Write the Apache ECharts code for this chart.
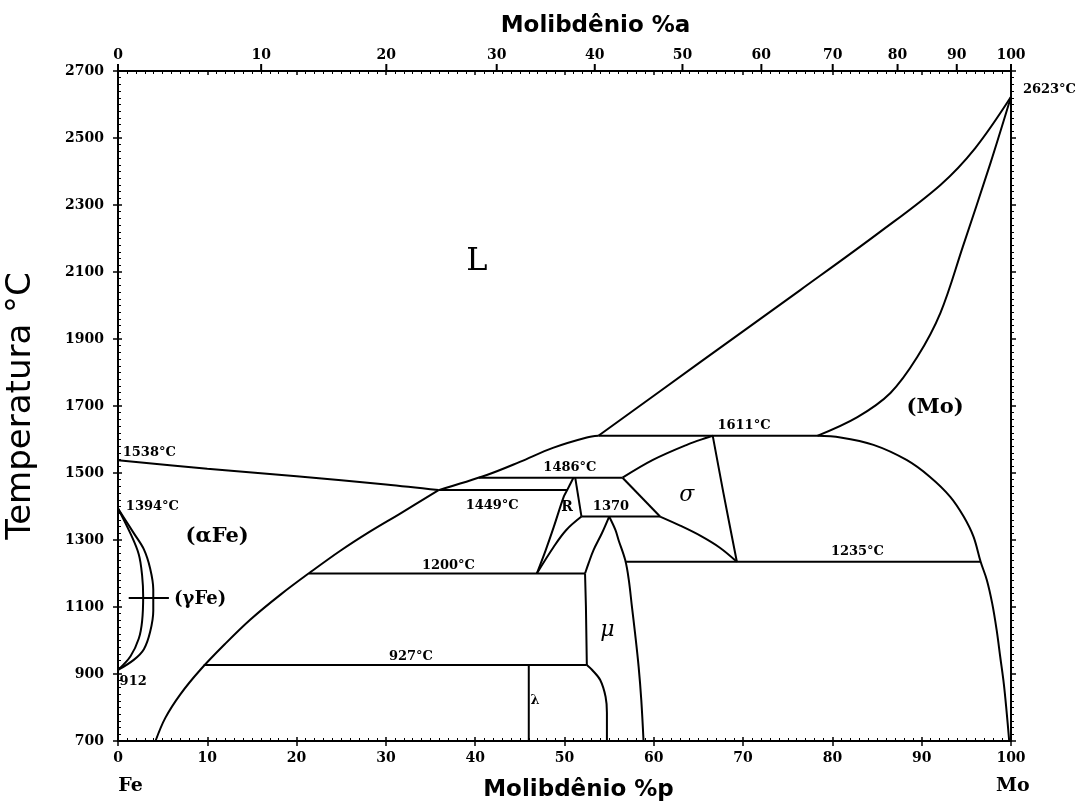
<!DOCTYPE html>
<html>
<head>
<meta charset="utf-8">
<script src="https://cdn.jsdelivr.net/npm/echarts@6/dist/echarts.min.js"></script>
<style>
  html, body { margin: 0; padding: 0; background: #fff; }
  #chart { width: 1080px; height: 805px; }
</style>
</head>
<body>
<div id="chart"></div>
<script>
// Fe–Mo equilibrium phase diagram.
// Composition in wt% Mo on the bottom axis, at% Mo on the top axis, temperature in °C.

const T_MIN = 700, T_MAX = 2700;
const atPercentTicks = [0, 10, 20, 30, 40, 50, 60, 70, 80, 90, 100];

// Phase boundaries: [wt% Mo, °C]
const feLiquidus    = [[0, 1538], [10, 1513], [20, 1490], [30, 1466], [35.9, 1449]];
const alphaSolvus   = [[4.2, 700], [5.3, 769], [7.0, 840], [9.2, 912], [12.0, 990], [14.8, 1062],
                       [18.2, 1137], [21.6, 1205], [24.9, 1268], [28.2, 1325], [31.6, 1379],
                       [35.9, 1449]];
const liquidusMid   = [[35.9, 1449], [41.3, 1494], [45.0, 1533], [48.7, 1575], [52.5, 1606],
                       [53.8, 1611]];
const moLiquidus    = [[53.8, 1611], [65.2, 1831], [76.4, 2046], [85.3, 2219], [92.1, 2360],
                       [96.0, 2470], [100, 2623]];
const moSolidus     = [[100, 2623], [97.7, 2425], [94.6, 2175], [92.1, 1978], [89.5, 1846],
                       [86.5, 1739], [82.8, 1667], [78.3, 1611]];
const moSolvus      = [[78.3, 1611], [80.9, 1606], [84.6, 1584], [88.3, 1539], [90.9, 1489],
                       [93.2, 1429], [94.7, 1370], [95.8, 1310], [96.6, 1235], [97.3, 1180],
                       [97.9, 1110], [98.4, 1030], [98.8, 950], [99.2, 870], [99.5, 790],
                       [99.8, 700]];
const gammaOuter    = [[0, 1394], [1.8, 1319], [2.9, 1272], [3.6, 1215], [3.95, 1152],
                       [3.95, 1089], [3.6, 1026], [2.9, 974], [1.8, 943], [0, 912]];
const gammaInner    = [[0, 1394], [1.4, 1319], [2.33, 1257], [2.7, 1194], [2.82, 1131],
                       [2.7, 1058], [2.33, 1006], [1.4, 953], [0, 912]];
const gammaPointer  = [[1.2, 1127], [5.7, 1127]];
const sigmaUpper    = [[56.5, 1486], [59.9, 1539], [63.7, 1584], [66.0, 1606], [66.6, 1611]];
const sigmaLeft     = [[56.5, 1486], [60.7, 1370]];
const sigmaLower    = [[60.7, 1370], [62.95, 1343], [65.2, 1313], [67.4, 1277], [69.3, 1235]];
const sigmaRight    = [[66.6, 1611], [67.8, 1440], [69.3, 1235]];
const rLeft         = [[51.0, 1486], [50.3, 1449], [49.9, 1428], [48.8, 1339], [47.9, 1270], [46.9, 1200]];
const rRight        = [[51.2, 1486], [51.9, 1370]];
const rLower        = [[51.9, 1370], [50.2, 1330], [48.8, 1280], [46.9, 1200]];
const muLeftUpper   = [[55.0, 1370], [54.2, 1321], [53.25, 1270], [52.7, 1231], [52.3, 1200]];
const muLeftMiddle  = [[52.3, 1200], [52.4, 1100], [52.5, 927]];
const muLeftLower   = [[52.5, 927], [53.1, 912], [54.0, 882], [54.6, 832], [54.75, 784], [54.75, 700]];
const muRight       = [[55.0, 1370], [55.7, 1330], [56.05, 1300], [56.8, 1240], [57.2, 1181],
                       [57.55, 1101], [57.9, 1022], [58.3, 922], [58.6, 822], [58.85, 700]];
const lambdaLine    = [[46.0, 927], [46.0, 700]];

// Invariant isotherms
const iso1611 = [[53.8, 1611], [78.3, 1611]];
const iso1486 = [[40.4, 1486], [56.5, 1486]];
const iso1449 = [[35.9, 1449], [50.3, 1449]];
const iso1370 = [[51.9, 1370], [60.7, 1370]];
const iso1235 = [[56.9, 1235], [96.6, 1235]];
const iso1200 = [[21.4, 1200], [52.3, 1200]];
const iso927  = [[9.6, 927], [52.5, 927]];

// Annotations: [wt% Mo, °C, text]
const temperatureNotes = [
  [3.5, 1560, '1538°C'], [3.85, 1400, '1394°C'], [1.7, 876, '912'],
  [50.6, 1515, '1486°C'], [41.9, 1402, '1449°C'], [55.2, 1399, '1370'],
  [70.1, 1640, '1611°C'], [82.8, 1264, '1235°C'], [37.0, 1225, '1200°C'],
  [32.8, 951, '927°C'], [104.3, 2643, '2623°C']
];
const liquidNote  = [[40.2, 2130, 'L']];
const phaseNotes  = [[11.1, 1309, '(αFe)'], [91.5, 1694, '(Mo)']];
const gammaNote   = [[9.2, 1124, '(γFe)']];
const rNote       = [[50.3, 1396, 'R']];
const greekNotes  = [[63.7, 1434, 'σ'], [54.8, 1031, 'μ']];
const lambdaNote  = [[46.7, 822, 'λ']];
const elementNotes = [[1.4, 566, 'Fe'], [100.2, 566, 'Mo']];

// Atomic percent → weight percent (Fe 55.845, Mo 95.95)
const M_FE = 55.845, M_MO = 95.95;
function atToWt(a) {
  return 100 * a * M_MO / (a * M_MO + (100 - a) * M_FE);
}

const BLACK = '#000';
const SERIF = '"DejaVu Serif", "Liberation Serif", serif';
const tickFont = 'bold 14px ' + SERIF;
const tickLabel = { fontFamily: SERIF, fontWeight: 'bold', fontSize: 14, color: BLACK };
const titleStyle = { fontFamily: '"DejaVu Sans", sans-serif', fontWeight: 'bold', fontSize: 23, color: BLACK };

function boundary(data, smooth) {
  return {
    type: 'line', data, smooth: smooth ? 0.35 : false,
    symbol: 'none', silent: true, z: 3,
    lineStyle: { color: BLACK, width: 2 }
  };
}

function textLayer(data, font) {
  return {
    type: 'custom', data: data.map(d => [d[0], d[1]]), clip: false, silent: true, z: 10,
    renderItem: (params, api) => {
      const p = api.coord([api.value(0), api.value(1)]);
      return {
        type: 'text', x: p[0], y: p[1],
        style: { text: data[params.dataIndex][2], font, fill: BLACK, align: 'center', verticalAlign: 'middle' }
      };
    }
  };
}

// Atomic-percent scale along the top edge
const atScale = {
  type: 'custom', clip: false, silent: true, z: 10,
  data: atPercentTicks.map(a => [atToWt(a), T_MAX, a]),
  renderItem: (params, api) => {
    const p = api.coord([api.value(0), api.value(1)]);
    return {
      type: 'group',
      children: [
        { type: 'line', shape: { x1: p[0], y1: p[1], x2: p[0], y2: p[1] - 7 },
          style: { stroke: BLACK, lineWidth: 2 } },
        { type: 'text', x: p[0], y: p[1] - 16,
          style: { text: String(api.value(2)), font: tickFont, fill: BLACK, align: 'center', verticalAlign: 'middle' } }
      ]
    };
  }
};

const axisLineStyle = { color: BLACK, width: 2 };
const tickStyle = { color: BLACK, width: 1.5 };
const minorStyle = { color: BLACK, width: 1 };
const plain = v => String(v);

const option = {
  animation: false,
  backgroundColor: '#fff',
  grid: { left: 118, right: 69, top: 71, bottom: 64, containLabel: false, outerBoundsMode: 'none' },
  xAxis: [
    {
      type: 'value', position: 'bottom', min: 0, max: 100, interval: 10,
      axisLine: { onZero: false, lineStyle: axisLineStyle },
      axisTick: { inside: false, length: 5, lineStyle: tickStyle },
      axisLabel: Object.assign({ margin: 10, formatter: plain }, tickLabel),
      splitLine: { show: false },
      name: 'Molibdênio %p', nameLocation: 'middle', nameGap: 38,
      nameTextStyle: Object.assign({ padding: [0, 0, 0, 28] }, titleStyle)
    },
    {
      type: 'value', position: 'top', min: 0, max: 100, interval: 10,
      axisLine: { onZero: false, lineStyle: axisLineStyle },
      axisTick: { inside: true, length: 4, lineStyle: tickStyle },
      minorTick: { show: true, splitNumber: 10, length: 3, lineStyle: minorStyle },
      axisLabel: { show: false }, splitLine: { show: false },
      name: 'Molibdênio %a', nameLocation: 'middle', nameGap: 33,
      nameTextStyle: Object.assign({ padding: [0, 0, 0, 62] }, titleStyle)
    },
    {
      type: 'value', position: 'bottom', min: 0, max: 100, interval: 10,
      axisLine: { show: false, onZero: false },
      axisTick: { inside: true, length: 4, lineStyle: tickStyle },
      minorTick: { show: true, splitNumber: 10, length: 3, lineStyle: minorStyle },
      axisLabel: { show: false }, splitLine: { show: false }
    }
  ],
  yAxis: [
    {
      type: 'value', position: 'left', min: T_MIN, max: T_MAX, interval: 200,
      axisLine: { onZero: false, lineStyle: axisLineStyle },
      axisTick: { inside: false, length: 5, lineStyle: tickStyle },
      axisLabel: Object.assign({ margin: 14, formatter: plain }, tickLabel),
      splitLine: { show: false },
      name: 'Temperatura °C',
      nameLocation: 'middle', nameGap: 80, nameRotate: 90,
      nameTextStyle: { fontFamily: '"DejaVu Sans", sans-serif', fontSize: 34, color: BLACK }
    },
    {
      type: 'value', position: 'right', min: T_MIN, max: T_MAX, interval: 200,
      axisLine: { onZero: false, lineStyle: axisLineStyle },
      axisTick: { inside: false, length: 5, lineStyle: tickStyle },
      minorTick: { show: true, splitNumber: 10, length: 3, lineStyle: minorStyle },
      axisLabel: { show: false }, splitLine: { show: false }
    },
    {
      type: 'value', position: 'left', min: T_MIN, max: T_MAX, interval: 200,
      axisLine: { show: false, onZero: false },
      axisTick: { inside: true, length: 4, lineStyle: tickStyle },
      minorTick: { show: true, splitNumber: 10, length: 3, lineStyle: minorStyle },
      axisLabel: { show: false }, splitLine: { show: false }
    }
  ],
  series: [
    boundary(feLiquidus, true),
    boundary(alphaSolvus, true),
    boundary(liquidusMid, true),
    boundary(moLiquidus, true),
    boundary(moSolidus, true),
    boundary(moSolvus, true),
    boundary(gammaOuter, true),
    boundary(gammaInner, true),
    boundary(gammaPointer, false),
    boundary(sigmaUpper, true),
    boundary(sigmaLeft, false),
    boundary(sigmaLower, true),
    boundary(sigmaRight, true),
    boundary(rLeft, true),
    boundary(rRight, false),
    boundary(rLower, true),
    boundary(muLeftUpper, true),
    boundary(muLeftMiddle, false),
    boundary(muLeftLower, true),
    boundary(muRight, true),
    boundary(lambdaLine, false),
    boundary(iso1611, false),
    boundary(iso1486, false),
    boundary(iso1449, false),
    boundary(iso1370, false),
    boundary(iso1235, false),
    boundary(iso1200, false),
    boundary(iso927, false),
    atScale,
    textLayer(temperatureNotes, 'bold 13px ' + SERIF),
    textLayer(liquidNote, '32px ' + SERIF),
    textLayer(phaseNotes, 'bold 21px ' + SERIF),
    textLayer(gammaNote, 'bold 18px ' + SERIF),
    textLayer(rNote, 'bold 14px ' + SERIF),
    textLayer(greekNotes, 'italic 22px ' + SERIF),
    textLayer(lambdaNote, 'bold 13px ' + SERIF),
    textLayer(elementNotes, 'bold 19px ' + SERIF)
  ]
};

const chart = echarts.init(document.getElementById('chart'), null, { renderer: 'canvas' });
chart.setOption(option);
</script>
</body>
</html>
